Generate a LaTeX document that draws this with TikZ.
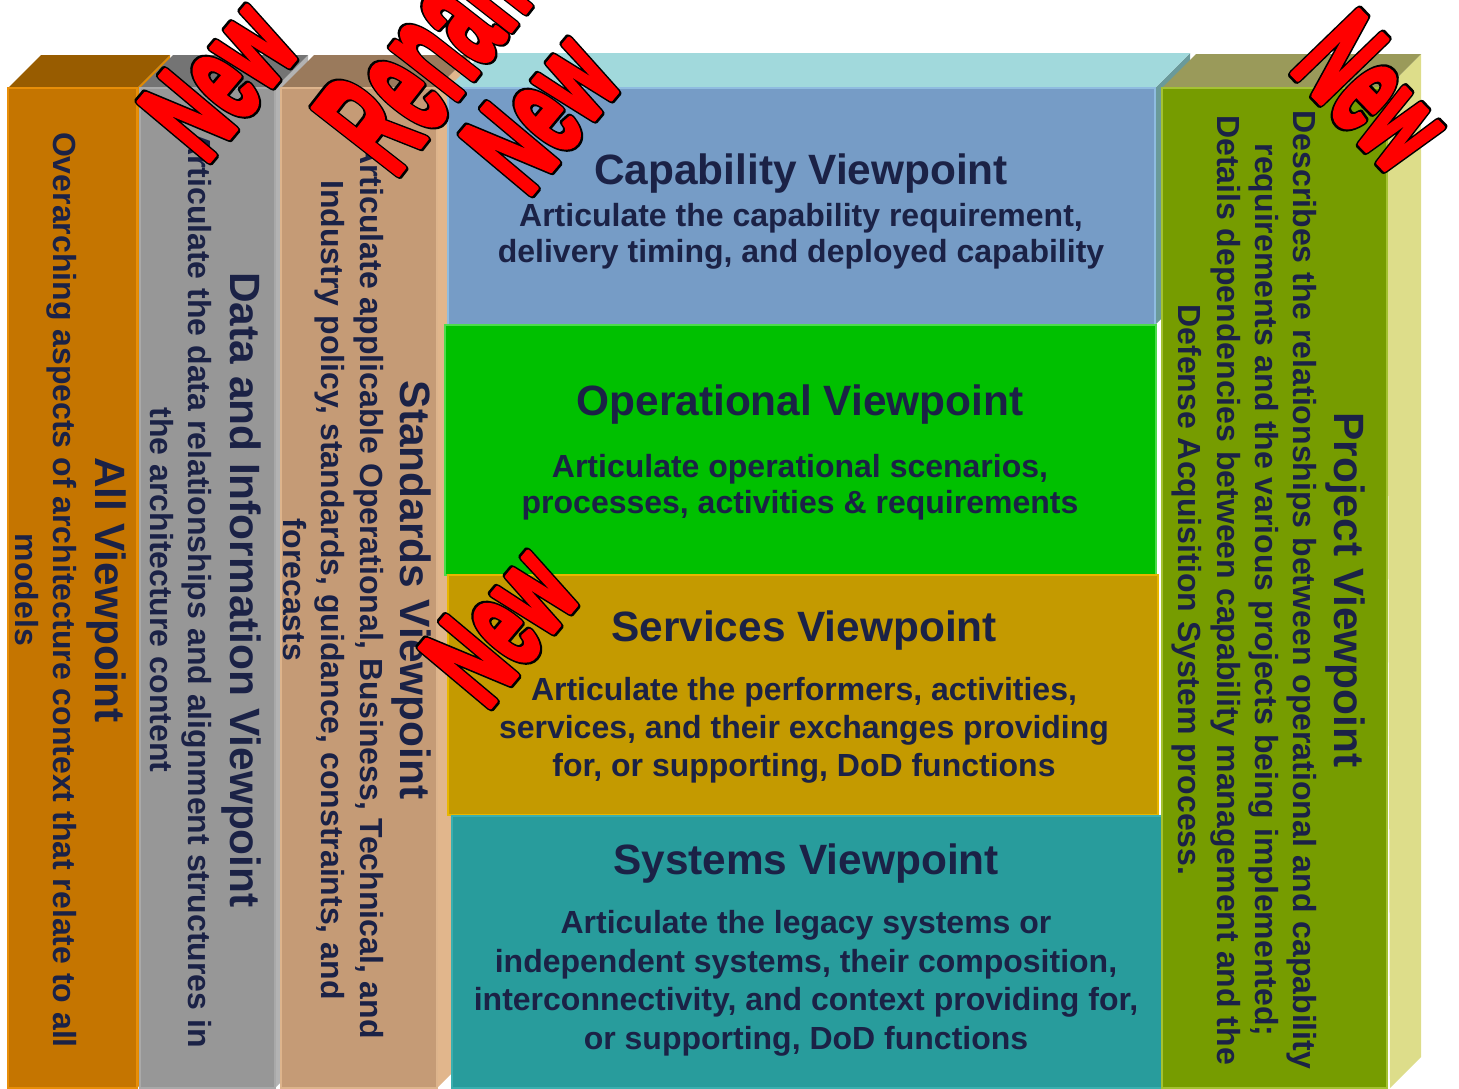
\documentclass[tikz,border=0pt]{standalone}
\usepackage{fontspec}
\setmainfont{Liberation Sans}
\definecolor{ink}{HTML}{1B2246}
\definecolor{allFront}{HTML}{C57500}\definecolor{allTop}{HTML}{985C00}
\definecolor{allSide}{HTML}{E38B00}\definecolor{allEdge}{HTML}{E88E08}
\definecolor{dataFront}{HTML}{979797}\definecolor{dataTop}{HTML}{747474}
\definecolor{dataSide}{HTML}{B3B3B3}\definecolor{dataEdge}{HTML}{A9A9A9}
\definecolor{stdFront}{HTML}{C59B76}\definecolor{stdTop}{HTML}{9A7A5C}
\definecolor{stdSide}{HTML}{E1B68C}\definecolor{stdEdge}{HTML}{DDB48C}
\definecolor{capFront}{HTML}{769CC6}\definecolor{capTop}{HTML}{A1D9DC}
\definecolor{capSide}{HTML}{6A9A9A}\definecolor{capEdge}{HTML}{8FBCE0}
\definecolor{opFront}{HTML}{00C000}\definecolor{opEdge}{HTML}{4CDC4C}
\definecolor{svcFront}{HTML}{C49A00}\definecolor{svcEdge}{HTML}{E8B600}
\definecolor{sysFront}{HTML}{289C9C}\definecolor{sysEdge}{HTML}{3AAFAF}
\definecolor{prjFront}{HTML}{769C00}\definecolor{prjTop}{HTML}{9A9A5A}
\definecolor{prjSide}{HTML}{DDDD8A}\definecolor{prjEdge}{HTML}{A4C232}
\newcommand{\titlefont}{\fontsize{21.2}{25}\selectfont}
% black outline under a slightly thickened red fill
\newcommand{\outlinetext}[1]{\rlap{\special{pdf:literal direct 0 0 0 rg 0 0 0 RG 5.5 w 1 j 2 Tr}#1}%
  \special{pdf:literal direct 1 0 0 rg 1 0 0 RG 2.8 w 1 j 2 Tr}#1\special{pdf:literal direct 0 Tr}}
\begin{document}
\begin{tikzpicture}[x=0.5pt, y=-0.5pt,
  front/.style 2 args={fill=#1, draw=#2, line width=0.75pt},
  topface/.style={fill=#1},
  sideface/.style={fill=#1},
  htext/.style={align=center, text=ink, font=\fontsize{16}{#1}\selectfont\bfseries},
  htext/.default=19.2,
  vtext/.style={rotate=-90, align=center, text=ink, font=\fontsize{16}{19.2}\selectfont\bfseries},
  newtag/.style={rotate=#1, xscale=0.55, text=red, inner sep=0pt, font=\fontsize{66}{66}\selectfont\bfseries}]
\useasboundingbox (0,0) rectangle (1459,1088);
\clip (0,0) rectangle (1459,1088);
% left columns
\fill[sideface=allSide] (137,88) -- (170,55) -- (170,1055) -- (137,1088) -- cycle;
\fill[topface=allTop] (8,88) -- (41,55) -- (170,55) -- (137,88) -- cycle;
\filldraw[front={allFront}{allEdge}] (8,88) rectangle (137,1088);
\fill[sideface=dataSide] (275,88) -- (308,55) -- (308,1055) -- (275,1088) -- cycle;
\fill[topface=dataTop] (140,88) -- (173,55) -- (308,55) -- (275,88) -- cycle;
\filldraw[front={dataFront}{dataEdge}] (140,88) rectangle (275,1088);
\fill[sideface=stdSide] (437,88) -- (470,55) -- (470,1055) -- (437,1088) -- cycle;
\fill[topface=stdTop] (281,88) -- (314,55) -- (470,55) -- (437,88) -- cycle;
\filldraw[front={stdFront}{stdEdge}] (281,88) rectangle (437,1088);
% centre stack
\fill[sideface=capSide] (1155,88) -- (1190,53) -- (1190,290) -- (1155,325) -- cycle;
\fill[topface=capTop] (448,88) -- (483,53) -- (1190,53) -- (1155,88) -- cycle;
\filldraw[front={capFront}{capEdge}] (448,88) rectangle (1155,325);
\filldraw[front={opFront}{opEdge}] (445,325) rectangle (1156,575);
\filldraw[front={svcFront}{svcEdge}] (448,575) rectangle (1158,815);
\filldraw[front={sysFront}{sysEdge}] (452,816) rectangle (1162,1088);
% right column
\fill[sideface=prjSide] (1387,88) -- (1421,54) -- (1421,1057) -- (1390,1088) -- cycle;
\fill[topface=prjTop] (1162,88) -- (1196,54) -- (1421,54) -- (1387,88) -- cycle;
\filldraw[front={prjFront}{prjEdge}] (1162,88) rectangle (1387,1088);
% texts
\node[vtext] (allvp) at (70.5,590) {{\titlefont All Viewpoint}\\[1.5pt]
  Overarching aspects of architecture context that relate to all\\ models};
\node[vtext] (datavp) at (205.5,590) {{\titlefont Data and Information Viewpoint}\\[1.5pt]
  Articulate the data relationships and alignment structures in\\ the architecture content};
\node[vtext] (stdvp) at (357,590) {{\titlefont Standards Viewpoint}\\[1pt]
  Articulate applicable Operational, Business, Technical, and\\
  Industry policy, standards, guidance, constraints, and\\ forecasts};
\node[vtext] (prjvp) at (1268.5,590) {{\titlefont Project Viewpoint}\\[1pt]
  Describes the relationships between operational and capability\\
  requirements and the various projects being implemented;\\
  Details dependencies between capability management and the\\
  Defense Acquisition System process.};
\node[htext=18] (capvp) at (801,212) {{\titlefont Capability Viewpoint}\\[3pt]
  Articulate the capability requirement,\\ delivery timing, and deployed capability};
\node[htext=18] (opvp) at (800,452) {{\titlefont Operational Viewpoint}\\[13pt]
  Articulate operational scenarios,\\ processes, activities \& requirements};
\node[htext] (svcvp) at (804,697) {{\titlefont Services Viewpoint}\\[10.3pt]
  Articulate the performers, activities,\\ services, and their exchanges providing\\
  for, or supporting, DoD functions};
\node[htext] (sysvp) at (806,950) {{\titlefont Systems Viewpoint}\\[10.3pt]
  Articulate the legacy systems or\\ independent systems, their composition,\\
  interconnectivity, and context providing for,\\ or supporting, DoD functions};
% tags
\node[newtag=50] (newdata) at (219,79) {\outlinetext{New}};
\node[newtag=52, xscale=0.87, font=\fontsize{78}{78}\selectfont\bfseries] (renamestd) at (442,32) {\outlinetext{Rename}};
\node[newtag=50] (newcap) at (541,112) {\outlinetext{New}};
\node[newtag=50] (newsvc) at (500,625) {\outlinetext{New}};
\node[newtag=-46] (newprj) at (1373,92) {\outlinetext{New}};
\end{tikzpicture}
\end{document}
